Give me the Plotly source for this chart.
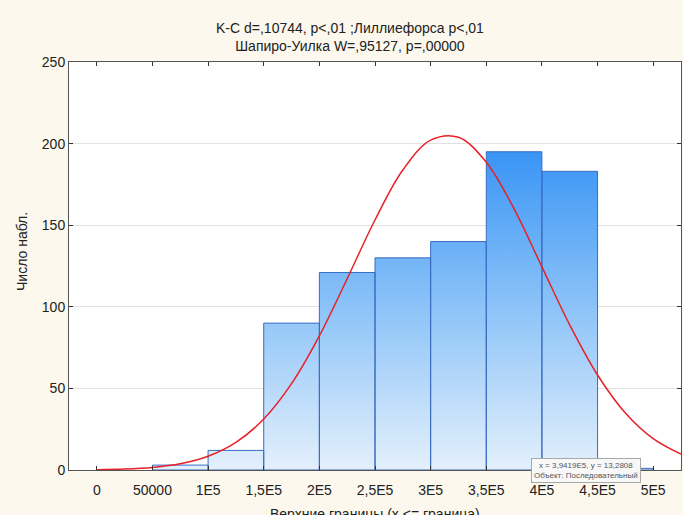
import plotly.graph_objects as go

# Histogram bins (upper bounds) and counts
bin_edges = [50000, 100000, 150000, 200000, 250000, 300000, 350000, 400000, 450000, 500000]
counts = [3, 12, 90, 121, 130, 140, 195, 183, 1]

# Fitted normal curve
curve_x = [0, 25000, 50000, 75000, 100000, 125000, 150000, 175000, 200000, 225000, 250000,
           275000, 300000, 325000, 350000, 375000, 400000, 425000, 450000, 475000, 500000, 525000]
curve_y = [0.2, 0.6, 1.6, 3.8, 8.4, 16.9, 31.2, 52.9, 82.2, 117.2, 153.2,
           183.8, 202.1, 203.9, 188.6, 160.0, 124.5, 88.9, 58.2, 34.9, 19.2, 9.7]

tick_vals = [0, 50000, 100000, 150000, 200000, 250000, 300000, 350000, 400000, 450000, 500000]
tick_text = ["0", "50000", "1E5", "1,5E5", "2E5", "2,5E5", "3E5", "3,5E5", "4E5", "4,5E5", "5E5"]

title_lines = ["K-C d=,10744, p<,01 ;Лиллиефорса p<,01", "Шапиро-Уилка W=,95127, p=,00000"]
x_title = "Верхние границы (x <= граница)"
y_title = "Число набл."
tooltip = "x = 3,9419E5, y = 13,2808<br>Объект: Последовательный"

FONT = "Liberation Sans, Arial, sans-serif"

# Build bar polygons
px, py = [], []
for i, c in enumerate(counts):
    x0, x1 = bin_edges[i], bin_edges[i + 1]
    px += [x0, x0, x1, x1, x0, None]
    py += [0, c, c, 0, 0, None]

fig = go.Figure()
fig.add_trace(go.Scatter(
    x=px, y=py, mode="lines", fill="toself",
    line=dict(color="#3a6cc0", width=1),
    fillgradient=dict(type="vertical", start=0, stop=200,
                      colorscale=[[0, "#e4f0fc"], [0.5, "#8cc3f8"], [1, "#3592f5"]]),
    hoverinfo="skip", showlegend=False,
))
fig.add_trace(go.Scatter(
    x=curve_x, y=curve_y, mode="lines",
    line=dict(color="#e8202a", width=1.5, shape="spline"),
    showlegend=False,
))

axis_common = dict(showline=True, linecolor="#555555", linewidth=1, mirror="ticks",
                   ticks="inside", ticklen=4, tickcolor="#333333",
                   tickfont=dict(family=FONT, size=14, color="#222222"), zeroline=False)

fig.update_xaxes(range=[-25000, 525000], tickvals=tick_vals, ticktext=tick_text,
                 showgrid=False, ticklabelstandoff=7, **axis_common)
fig.update_yaxes(range=[0, 250], tickvals=[0, 50, 100, 150, 200, 250],
                 showgrid=True, gridcolor="#e2e2e2", gridwidth=1, **axis_common)

fig.add_annotation(text="<br>".join(title_lines), xref="paper", yref="paper",
                   x=(350 - 69) / 612, y=(470 - 37) / 408, showarrow=False,
                   yanchor="middle", xanchor="center",
                   font=dict(family=FONT, size=14, color="#222222"))
fig.add_annotation(text=x_title, xref="paper", yref="paper",
                   x=(375 - 69) / 612, y=-(514 - 470) / 408, showarrow=False,
                   yanchor="middle", xanchor="center",
                   font=dict(family=FONT, size=14, color="#222222"))
fig.add_annotation(text=y_title, xref="paper", yref="paper",
                   x=(22 - 69) / 612, y=(470 - 252) / 408, showarrow=False,
                   textangle=-90, yanchor="middle", xanchor="center",
                   font=dict(family=FONT, size=14, color="#222222"))
fig.add_annotation(text=tooltip, xref="x", yref="y", x=439600, y=0, showarrow=False,
                   xanchor="center", yanchor="middle",
                   bgcolor="#f8f8f8", bordercolor="#a8a8a8", borderwidth=1, borderpad=2,
                   font=dict(family=FONT, size=8, color="#555555"))

fig.update_layout(
    width=683, height=515,
    margin=dict(l=69, r=2, t=62, b=45),
    paper_bgcolor="#fcf8ee", plot_bgcolor="#ffffff",
    showlegend=False,
)

fig.write_html("out.html")
